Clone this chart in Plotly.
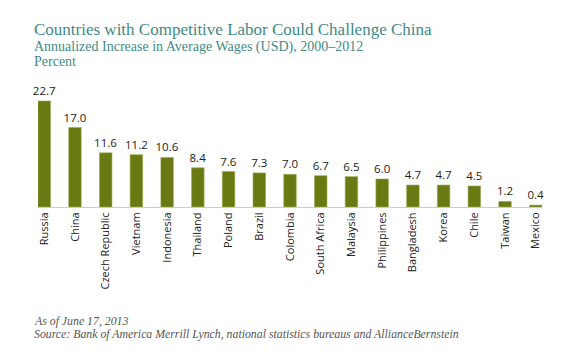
import plotly.graph_objects as go

countries = ["Russia", "China", "Czech Republic", "Vietnam", "Indonesia", "Thailand",
             "Poland", "Brazil", "Colombia", "South Africa", "Malaysia", "Philippines",
             "Bangladesh", "Korea", "Chile", "Taiwan", "Mexico"]
wages = [22.7, 17.0, 11.6, 11.2, 10.6, 8.4, 7.6, 7.3, 7.0, 6.7, 6.5, 6.0, 4.7, 4.7, 4.5, 1.2, 0.4]

title_text = "Countries with Competitive Labor Could Challenge China"
subtitle_text = "Annualized Increase in Average Wages (USD), 2000\u20132012"
unit_text = "Percent"
footer_lines = ["As of June 17, 2013",
                "Source: Bank of America Merrill Lynch, national statistics bureaus and AllianceBernstein"]

teal = "#3f8a86"
serif = "Liberation Serif, Times New Roman, serif"
sans = "Open Sans, Noto Sans, sans-serif"

fig = go.Figure(go.Bar(
    x=countries, y=wages,
    marker=dict(color="#6a7a12", line=dict(color="#9aa84e", width=0.6)),
    texttemplate="%{y:.1f}", textposition="outside", constraintext="none",
    textfont=dict(family=sans, size=11.5, color="#222"),
    cliponaxis=False,
))

# the page body has an 8px margin, so the figure is 8px smaller than the window
PL, PW, PB, PH = 37.5, 504.5, 207, 117  # plot area in window pixels


def px(X):
    return (X - PL) / PW


def py(Y):
    return (PB - Y) / PH


n = len(countries)
fig.update_layout(
    width=572, height=352,
    margin=dict(l=29.5, r=38, t=82, b=153, pad=0, autoexpand=False),
    paper_bgcolor="white", plot_bgcolor="white",
    bargap=0.593,
    showlegend=False,
    xaxis=dict(range=[-0.203, n - 1 + 0.203], showline=True, linecolor="#cccccc", linewidth=1,
               showgrid=False, ticks="", tickangle=-90, automargin=False,
               tickfont=dict(family=sans, size=11, color="#222")),
    yaxis=dict(range=[0, 25.05], visible=False, showgrid=False, zeroline=False, automargin=False),
)

annos = [
    dict(text=title_text, y=41, size=17),
    dict(text=subtitle_text, y=57, size=14),
    dict(text=unit_text, y=71, size=14),
]
for a in annos:
    fig.add_annotation(text=a["text"], xref="paper", yref="paper",
                       x=px(31), y=py(a["y"]),
                       xanchor="left", yanchor="bottom", showarrow=False,
                       font=dict(family=serif, size=a["size"], color=teal))
for i, line in enumerate(footer_lines):
    fig.add_annotation(text="<i>" + line + "</i>", xref="paper", yref="paper",
                       x=px(31), y=py(321 + 12.5 * i),
                       xanchor="left", yanchor="middle", showarrow=False,
                       font=dict(family=serif, size=11.8, color="#555555"))

fig.write_html("out.html")
